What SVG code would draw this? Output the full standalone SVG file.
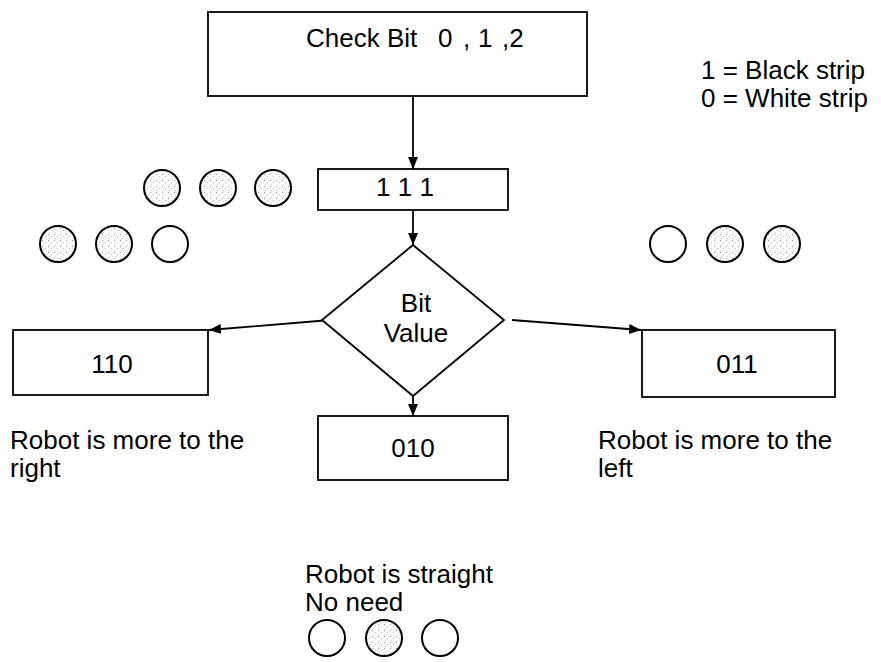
<svg xmlns="http://www.w3.org/2000/svg" width="881" height="662" viewBox="0 0 881 662">
  <style>
    .box { fill: #fff; stroke: #000; stroke-width: 1.8; }
    .lbl { font-family: "Liberation Sans", Arial, sans-serif; font-size: 26px; fill: #000; white-space: pre; }
    .mid { text-anchor: middle; }
    .edge { stroke: #000; stroke-width: 1.8; fill: none; marker-end: url(#arrow); }
    .led { stroke: #000; stroke-width: 2; }
    .on { fill: url(#dots); }
    .off { fill: #fff; }
  </style>
  <defs>
    <marker id="arrow" viewBox="0 0 12 10" refX="12" refY="5" markerWidth="12" markerHeight="10" markerUnits="userSpaceOnUse" orient="auto">
      <path d="M0,0 L12,5 L0,10 z" fill="#000"/>
    </marker>
    <!-- speckled fill for sensors over a black strip -->
    <pattern id="dots" width="6" height="6" patternUnits="userSpaceOnUse">
      <rect width="6" height="6" fill="#fafafa"/>
      <rect x="0" y="0" width="1" height="1" fill="#9a9a9a"/>
      <rect x="3" y="2" width="1" height="1" fill="#c0c0c0"/>
      <rect x="1" y="4" width="1" height="1" fill="#d0d0d0"/>
    </pattern>
  </defs>

  <g id="connectors">
    <path class="edge" d="M413,96 L413,169"/>
    <path class="edge" d="M413,210 L413,245"/>
    <path class="edge" d="M330,320 L209,330"/>
    <path class="edge" d="M512,320 L641,330"/>
    <path class="edge" d="M413,396 L413,416"/>
  </g>

  <g id="check">
    <rect class="box" x="208" y="12" width="379" height="84"/>
    <text class="lbl" x="306" y="47">Check Bit<tspan x="438">0</tspan><tspan x="463">,</tspan><tspan x="478">1</tspan><tspan x="502">,2</tspan></text>
  </g>

  <g id="legend">
    <text class="lbl" x="701" y="79">1 = Black strip</text>
    <text class="lbl" x="701" y="107">0 = White strip</text>
  </g>

  <g id="n111">
    <rect class="box" x="318" y="169" width="190" height="41"/>
    <text class="lbl mid" x="405" y="196">1 1 1</text>
  </g>

  <g id="decision">
    <polygon class="box" points="413,245 504,320 413,396 322,320"/>
    <text class="lbl mid" x="416" y="312">Bit</text>
    <text class="lbl mid" x="416" y="342">Value</text>
  </g>

  <g id="n110">
    <rect class="box" x="13" y="330" width="195" height="65"/>
    <text class="lbl mid" x="112" y="373">110</text>
  </g>

  <g id="n011">
    <rect class="box" x="642" y="330" width="193" height="67"/>
    <text class="lbl mid" x="737" y="373">011</text>
  </g>

  <g id="n010">
    <rect class="box" x="318" y="416" width="190" height="64"/>
    <text class="lbl mid" x="413" y="457">010</text>
  </g>

  <g id="notes">
    <text class="lbl" x="10" y="449">Robot is more to the</text>
    <text class="lbl" x="10" y="477">right</text>
    <text class="lbl" x="598" y="449">Robot is more to the</text>
    <text class="lbl" x="598" y="477">left</text>
    <text class="lbl" x="305" y="583">Robot is straight</text>
    <text class="lbl" x="305" y="611">No need</text>
  </g>

  <g id="sensors-111">
    <circle class="led on" cx="162" cy="188" r="18"/>
    <circle class="led on" cx="218" cy="188" r="18"/>
    <circle class="led on" cx="273" cy="188" r="18"/>
  </g>
  <g id="sensors-110">
    <circle class="led on" cx="58" cy="244" r="18"/>
    <circle class="led on" cx="114" cy="244" r="18"/>
    <circle class="led off" cx="170" cy="244" r="18"/>
  </g>
  <g id="sensors-011">
    <circle class="led off" cx="668" cy="244" r="18"/>
    <circle class="led on" cx="725" cy="244" r="18"/>
    <circle class="led on" cx="782" cy="244" r="18"/>
  </g>
  <g id="sensors-010">
    <circle class="led off" cx="327" cy="638" r="18"/>
    <circle class="led on" cx="384" cy="638" r="18"/>
    <circle class="led off" cx="440" cy="638" r="18"/>
  </g>
</svg>
